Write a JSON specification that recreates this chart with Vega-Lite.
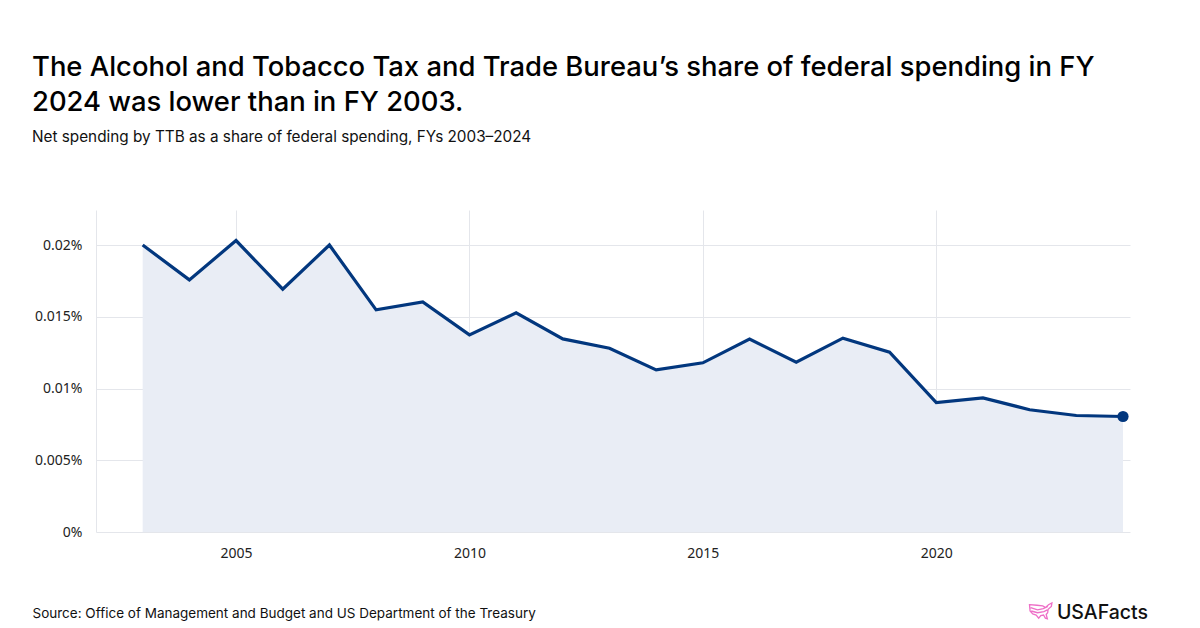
{
  "$schema": "https://vega.github.io/schema/vega-lite/v6.json",
  "autosize": {"type": "none"},
  "width": 1034,
  "height": 322,
  "padding": {"left": 96, "top": 210, "right": 70, "bottom": 96},
  "background": "#ffffff",
  "title": {
    "text": ["The Alcohol and Tobacco Tax and Trade Bureau’s share of federal spending in FY", "2024 was lower than in FY 2003."],
    "subtitle": "Net spending by TTB as a share of federal spending, FYs 2003–2024",
    "anchor": "start",
    "frame": "group",
    "dx": -64,
    "offset": 65,
    "font": "Inter",
    "fontSize": 27.4,
    "fontWeight": 500,
    "lineHeight": 35,
    "color": "#000000",
    "subtitleFont": "Inter",
    "subtitleFontSize": 15.3,
    "subtitleColor": "#111111",
    "subtitlePadding": 13
  },
  "config": {
    "view": {"stroke": null},
    "axis": {
      "labelFont": "Noto Sans",
      "labelFontSize": 14,
      "labelColor": "#222222",
      "gridColor": "#e4e6eb",
      "gridWidth": 1,
      "ticks": false,
      "domainColor": "#e4e6eb"
    }
  },
  "datasets": {
    "series": [
      {"year": 2003, "share": 0.000200},
      {"year": 2004, "share": 0.0001757},
      {"year": 2005, "share": 0.0002031},
      {"year": 2006, "share": 0.0001692},
      {"year": 2007, "share": 0.000200},
      {"year": 2008, "share": 0.0001548},
      {"year": 2009, "share": 0.0001604},
      {"year": 2010, "share": 0.0001374},
      {"year": 2011, "share": 0.0001527},
      {"year": 2012, "share": 0.0001346},
      {"year": 2013, "share": 0.0001281},
      {"year": 2014, "share": 0.000113},
      {"year": 2015, "share": 0.0001179},
      {"year": 2016, "share": 0.0001344},
      {"year": 2017, "share": 0.0001184},
      {"year": 2018, "share": 0.0001351},
      {"year": 2019, "share": 0.0001253},
      {"year": 2020, "share": 0.0000902},
      {"year": 2021, "share": 0.0000935},
      {"year": 2022, "share": 0.0000852},
      {"year": 2023, "share": 0.0000812},
      {"year": 2024, "share": 0.0000805}
    ],
    "brand": [
      {"year": 2024.15, "share": 0, "label": "USAFacts"}
    ]
  },
  "data": {"name": "series"},
  "encoding": {
    "x": {
      "field": "year",
      "type": "quantitative",
      "scale": {"domain": [2002, 2024.15], "nice": false, "zero": false},
      "axis": {
        "values": [2005, 2010, 2015, 2020],
        "format": "d",
        "labelPadding": 14,
        "domain": false,
        "title": "Source: Office of Management and Budget and US Department of the Treasury",
        "titleFont": "Inter",
        "titleFontSize": 13.5,
        "titleFontWeight": 400,
        "titleColor": "#111111",
        "titleAnchor": "start",
        "titleAlign": "left",
        "titleBaseline": "alphabetic",
        "titleX": -64,
        "titleY": 85
      }
    },
    "y": {
      "field": "share",
      "type": "quantitative",
      "scale": {"domain": [0, 0.0002244], "nice": false},
      "axis": {
        "values": [0, 0.00005, 0.0001, 0.00015, 0.0002],
        "format": ".3~%",
        "labelPadding": 14,
        "domain": true,
        "title": null
      }
    }
  },
  "layer": [
    {"mark": {"type": "area", "color": "#e9edf5", "opacity": 1}},
    {"mark": {"type": "line", "color": "#02377e", "strokeWidth": 3.2, "strokeJoin": "miter"}},
    {
      "transform": [{"filter": "datum.year == 2024"}],
      "mark": {"type": "point", "filled": true, "color": "#02377e", "size": 125, "opacity": 1}
    },
    {
      "data": {"name": "brand"},
      "mark": {"type": "text", "align": "right", "baseline": "alphabetic", "font": "Inter", "fontSize": 19.5, "fontWeight": 500, "fill": "#111111", "dx": 18, "dy": 87},
      "encoding": {
        "text": {"field": "label", "type": "nominal"}
      }
    },
    {
      "data": {"name": "brand"},
      "mark": {
        "type": "point",
        "shape": "M-1,-0.55 L-0.35,-0.5 L0.15,-0.45 L0.4,-0.3 L0.65,-0.55 L0.95,-0.7 L0.9,-0.4 L0.62,-0.15 L0.58,0.15 L0.45,0.3 L0.55,0.68 L0.38,0.62 L0.22,0.35 L-0.02,0.4 L-0.2,0.62 L-0.42,0.35 L-0.72,0.25 L-0.95,0 Z M-0.9,-0.3 L-0.3,-0.1 L0.2,-0.2 L0.6,-0.4 M-0.85,0 L-0.3,0.15 L0.25,0.05 L0.55,-0.1",
        "filled": false,
        "stroke": "#ee6fc7",
        "strokeWidth": 1.3,
        "size": 529,
        "opacity": 1,
        "xOffset": -89,
        "yOffset": 79
      }
    }
  ]
}
